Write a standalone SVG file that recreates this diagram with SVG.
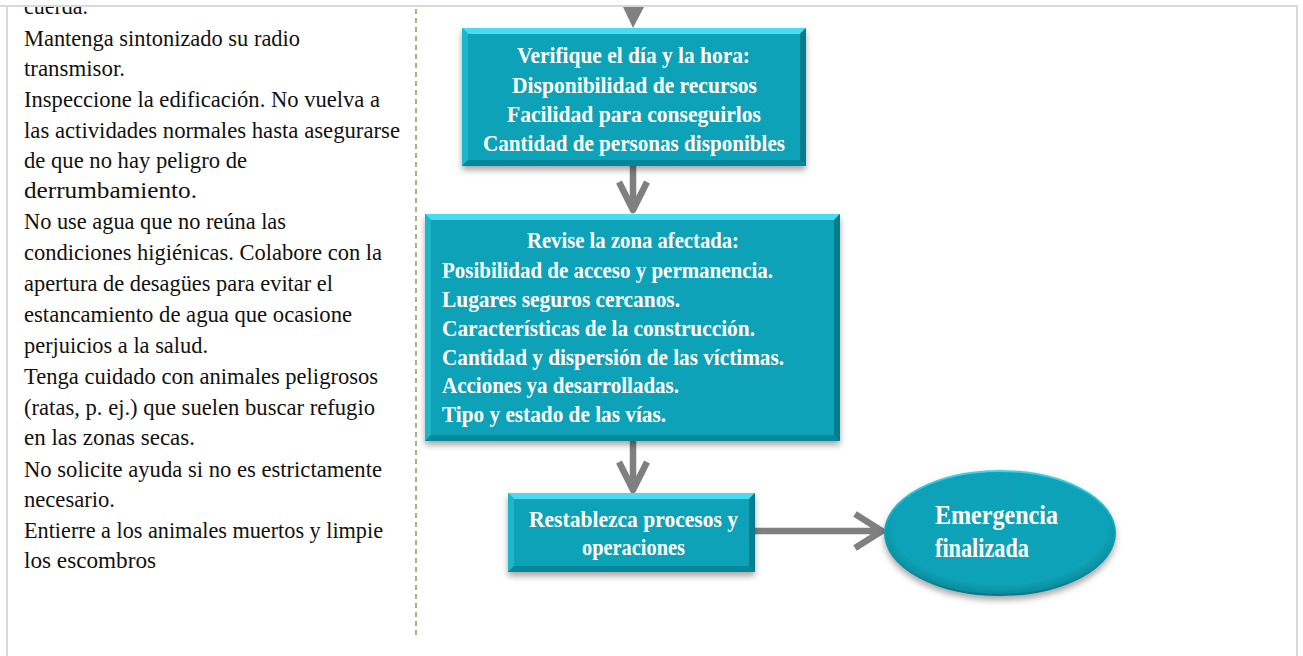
<svg xmlns="http://www.w3.org/2000/svg" width="1303" height="656" viewBox="0 0 1303 656">
<style>
.lt{font-family:"Liberation Serif","Times New Roman",serif;font-size:24px;fill:#111}
.bt{font-family:"Liberation Serif","Times New Roman",serif;font-size:24px;font-weight:bold;fill:#fff}
.et{font-family:"Liberation Serif","Times New Roman",serif;font-size:28px;font-weight:bold;fill:#fff}
.conn{fill:none;stroke:#808080;stroke-width:6.5;stroke-linejoin:round;stroke-linecap:butt}
.head{fill:#808080;stroke:none}
.face{fill:#08a2b8}
.bvt{fill:#48dcf0}
.bvl{fill:#1cb6cb}
.bvr{fill:#067e8e}
.bvb{fill:#06899a}
</style>
<defs>
<clipPath id="page"><rect x="8" y="7" width="1288" height="649"/></clipPath>
<filter id="sh" x="-10%" y="-10%" width="120%" height="130%">
<feDropShadow dx="0" dy="4" stdDeviation="3" flood-color="#000" flood-opacity="0.35"/>
</filter>
<radialGradient id="eg" cx="0.5" cy="0.45" r="0.55">
<stop offset="0" stop-color="#0aa3b8"/>
<stop offset="0.85" stop-color="#0aa2b7"/>
<stop offset="1" stop-color="#078898"/>
</radialGradient>
<linearGradient id="er" x1="0" y1="0" x2="0" y2="1">
<stop offset="0" stop-color="#3fd3e8"/>
<stop offset="0.5" stop-color="#0aa2b7"/>
<stop offset="1" stop-color="#06798a"/>
</linearGradient>
</defs>
<rect x="0" y="0" width="1303" height="656" fill="#fff"/>
<g id="frame" fill="none" stroke="#d9d9d9" stroke-width="2">
<line x1="0" y1="6" x2="1298" y2="6"/>
<line x1="7" y1="6" x2="7" y2="656"/>
<line x1="1297" y1="6" x2="1297" y2="656"/>
</g>
<line id="divider" x1="416" y1="9" x2="416" y2="639" stroke="#8a9a5b" stroke-width="1.5" stroke-dasharray="5 4"/>
<g id="left-text" clip-path="url(#page)">
<text class="lt" x="24" y="14" textLength="64" lengthAdjust="spacingAndGlyphs">cuerda.</text>
<text class="lt" x="24" y="46" textLength="276" lengthAdjust="spacingAndGlyphs">Mantenga sintonizado  su radio</text>
<text class="lt" x="24" y="76" textLength="101" lengthAdjust="spacingAndGlyphs">transmisor.</text>
<text class="lt" x="24" y="107" textLength="356" lengthAdjust="spacingAndGlyphs">Inspeccione la edificación. No vuelva a</text>
<text class="lt" x="24" y="138" textLength="376" lengthAdjust="spacingAndGlyphs">las actividades normales hasta asegurarse</text>
<text class="lt" x="24" y="168" textLength="223" lengthAdjust="spacingAndGlyphs">de que no hay peligro de</text>
<text class="lt" x="24" y="198" textLength="173" lengthAdjust="spacingAndGlyphs">derrumbamiento.</text>
<text class="lt" x="24" y="229" textLength="262" lengthAdjust="spacingAndGlyphs">No use agua que no reúna las</text>
<text class="lt" x="24" y="260" textLength="358" lengthAdjust="spacingAndGlyphs">condiciones higiénicas.  Colabore con la</text>
<text class="lt" x="24" y="291" textLength="309" lengthAdjust="spacingAndGlyphs">apertura de desagües para evitar el</text>
<text class="lt" x="24" y="322" textLength="328" lengthAdjust="spacingAndGlyphs">estancamiento de agua que ocasione</text>
<text class="lt" x="24" y="353" textLength="184" lengthAdjust="spacingAndGlyphs">perjuicios a la salud.</text>
<text class="lt" x="24" y="384" textLength="354" lengthAdjust="spacingAndGlyphs">Tenga cuidado con animales peligrosos</text>
<text class="lt" x="24" y="415" textLength="351" lengthAdjust="spacingAndGlyphs">(ratas, p. ej.) que suelen buscar refugio</text>
<text class="lt" x="24" y="445" textLength="171" lengthAdjust="spacingAndGlyphs">en las zonas secas.</text>
<text class="lt" x="24" y="477" textLength="358" lengthAdjust="spacingAndGlyphs">No solicite ayuda si no es estrictamente</text>
<text class="lt" x="24" y="507" textLength="91" lengthAdjust="spacingAndGlyphs">necesario.</text>
<text class="lt" x="24" y="538" textLength="359" lengthAdjust="spacingAndGlyphs">Entierre a los animales  muertos y limpie</text>
<text class="lt" x="24" y="568" textLength="132" lengthAdjust="spacingAndGlyphs">los escombros</text>
</g>
<g id="connectors" clip-path="url(#page)">
<polygon class="head" points="623,7 644,7 633,28"/>
<path class="conn" d="M633,166 V210 M619,182 L633,210 L647,182"/>
<path class="conn" d="M633,441 V490 M619,462 L633,490 L647,462"/>
<path class="conn" d="M755,531 H882 M855,514 L882,531 L855,548"/>
</g>
<g id="node-verifique">
<g filter="url(#sh)">
<rect class="face" x="462" y="28" width="344" height="138"/>
<polygon class="bvt" points="462,28 806,28 800,34 468,34"/>
<polygon class="bvl" points="462,28 468,34 468,160 462,166"/>
<polygon class="bvr" points="806,28 806,166 800,160 800,34"/>
<polygon class="bvb" points="462,166 806,166 800,160 468,160"/>
</g>
<text class="bt" x="517" y="63" textLength="233" lengthAdjust="spacingAndGlyphs">Verifique  el día  y la hora:</text>
<text class="bt" x="512" y="93" textLength="245" lengthAdjust="spacingAndGlyphs">Disponibilidad  de  recursos</text>
<text class="bt" x="507" y="122" textLength="254" lengthAdjust="spacingAndGlyphs">Facilidad  para  conseguirlos</text>
<text class="bt" x="483" y="151" textLength="302" lengthAdjust="spacingAndGlyphs">Cantidad  de personas  disponibles</text>
</g>
<g id="node-revise">
<g filter="url(#sh)">
<rect class="face" x="425" y="214" width="415" height="227"/>
<polygon class="bvt" points="425,214 840,214 834,220 431,220"/>
<polygon class="bvl" points="425,214 431,220 431,435 425,441"/>
<polygon class="bvr" points="840,214 840,441 834,435 834,220"/>
<polygon class="bvb" points="425,441 840,441 834,435 431,435"/>
</g>
<text class="bt" x="527" y="248" textLength="212" lengthAdjust="spacingAndGlyphs">Revise la zona  afectada:</text>
<text class="bt" x="442" y="278" textLength="331" lengthAdjust="spacingAndGlyphs">Posibilidad  de  acceso y permanencia.</text>
<text class="bt" x="442" y="307" textLength="238" lengthAdjust="spacingAndGlyphs">Lugares  seguros cercanos.</text>
<text class="bt" x="442" y="336" textLength="313" lengthAdjust="spacingAndGlyphs">Características de  la  construcción.</text>
<text class="bt" x="442" y="365" textLength="342" lengthAdjust="spacingAndGlyphs">Cantidad   y dispersión  de las víctimas.</text>
<text class="bt" x="442" y="393" textLength="237" lengthAdjust="spacingAndGlyphs">Acciones ya desarrolladas.</text>
<text class="bt" x="442" y="422" textLength="224" lengthAdjust="spacingAndGlyphs">Tipo  y estado  de las vías.</text>
</g>
<g id="node-restablezca">
<g filter="url(#sh)">
<rect class="face" x="508" y="493" width="247" height="79"/>
<polygon class="bvt" points="508,493 755,493 749,499 514,499"/>
<polygon class="bvl" points="508,493 514,499 514,566 508,572"/>
<polygon class="bvr" points="755,493 755,572 749,566 749,499"/>
<polygon class="bvb" points="508,572 755,572 749,566 514,566"/>
</g>
<text class="bt" x="529" y="527" textLength="209" lengthAdjust="spacingAndGlyphs">Restablezca  procesos y</text>
<text class="bt" x="582" y="555" textLength="103" lengthAdjust="spacingAndGlyphs">operaciones</text>
</g>
<g id="node-emergencia">
<ellipse cx="1000" cy="533" rx="115" ry="62" fill="url(#eg)" stroke="url(#er)" stroke-width="2" filter="url(#sh)"/>
<text class="et" x="935" y="524" textLength="123" lengthAdjust="spacingAndGlyphs">Emergencia</text>
<text class="et" x="935" y="557" textLength="94" lengthAdjust="spacingAndGlyphs">finalizada</text>
</g>
</svg>
